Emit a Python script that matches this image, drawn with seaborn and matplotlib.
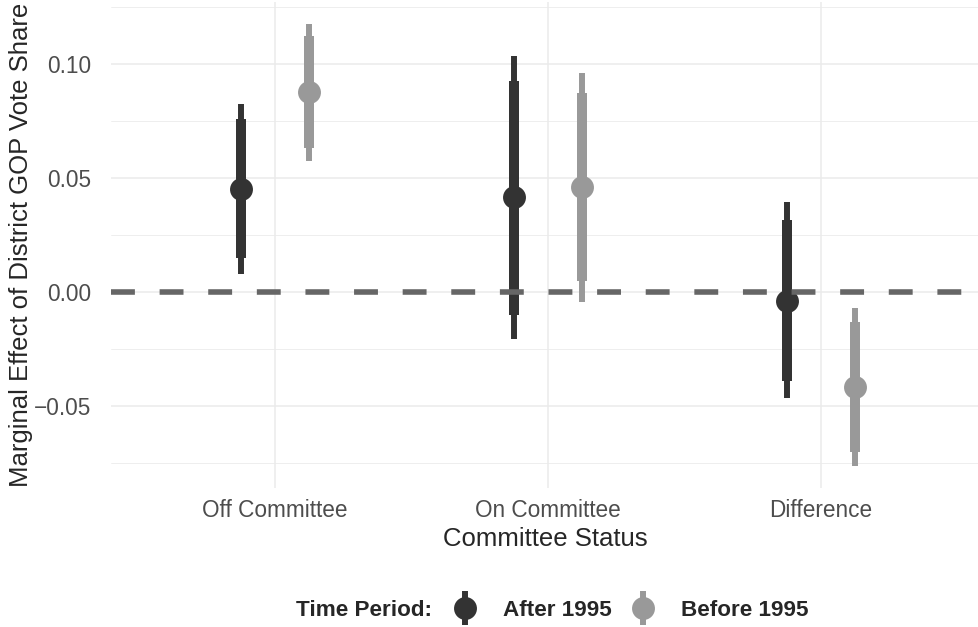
import numpy as np
import pandas as pd
import matplotlib
matplotlib.use("Agg")
import matplotlib.pyplot as plt
import seaborn as sns
from matplotlib.lines import Line2D
from matplotlib.legend_handler import HandlerTuple

# values
status = ["Off Committee", "On Committee", "Difference"]
periods = ["After 1995", "Before 1995"]
colors = ["#333333", "#999999"]

after_est = [0.0450, 0.0417, -0.0039]
after_lo95 = [0.0079, -0.0206, -0.0465]
after_hi95 = [0.0825, 0.1036, 0.0395]
after_lo90 = [0.0149, -0.0101, -0.0390]
after_hi90 = [0.0759, 0.0927, 0.0316]

before_est = [0.0877, 0.0460, -0.0417]
before_lo95 = [0.0575, -0.0044, -0.0763]
before_hi95 = [0.1175, 0.0960, -0.0070]
before_lo90 = [0.0632, 0.0050, -0.0700]
before_hi90 = [0.1123, 0.0873, -0.0132]

df = pd.DataFrame({
    "status": status * 2,
    "period": [periods[0]] * 3 + [periods[1]] * 3,
    "est": after_est + before_est,
    "lo95": after_lo95 + before_lo95,
    "hi95": after_hi95 + before_hi95,
    "lo90": after_lo90 + before_lo90,
    "hi90": after_hi90 + before_hi90,
})

sns.set_style("white")
plt.rcParams["font.family"] = ["Liberation Sans", "DejaVu Sans"]

fig = plt.figure(figsize=(9.79, 6.27), dpi=100)
ax = fig.add_axes([111 / 979, 1 - 488 / 627, 868 / 979, 486 / 627])

sns.pointplot(data=df, x="status", y="est", hue="period", order=status,
              hue_order=periods, palette=colors, dodge=0.25, errorbar=None,
              linestyle="none", markers="o", markersize=16.5,
              markeredgewidth=0, legend=False, ax=ax)

# intervals at the dodged positions seaborn used
pt_lines = list(ax.lines)
for line, per, col in zip(pt_lines, periods, colors):
    sub = df[df["period"] == per].set_index("status").loc[status]
    xs = line.get_xdata()
    ax.vlines(xs, sub["lo95"], sub["hi95"], color=col, lw=4.3, zorder=2)
    ax.vlines(xs, sub["lo90"], sub["hi90"], color=col, lw=7.2, zorder=2)
    line.set_zorder(3)

ax.axhline(0, color="#666666", lw=4, linestyle=(0, (4.3, 4.45)), zorder=4)

ax.set_xlim(-0.6, 2.579)
ax.set_ylim(-0.086, 0.1272)
ax.set_yticks([-0.05, 0.0, 0.05, 0.10])
ax.set_yticklabels(["\u22120.05", "0.00", "0.05", "0.10"])
ax.set_yticks([-0.075, -0.025, 0.025, 0.075, 0.125], minor=True)
ax.grid(which="major", color="#EBEBEB", lw=1.1)
ax.grid(which="minor", axis="y", color="#EBEBEB", lw=0.6)
ax.set_axisbelow(True)
for s in ax.spines.values():
    s.set_visible(False)

ax.tick_params(axis="x", which="both", length=0, pad=8, labelsize=16.3, labelcolor="#4D4D4D")
ax.tick_params(axis="y", which="both", length=0, pad=14, labelsize=16.3, labelcolor="#4D4D4D")
ax.set_xlabel("Committee Status", fontsize=18.5, labelpad=3.2)
ax.set_ylabel("Marginal Effect of District GOP Vote Share", fontsize=18.5, labelpad=1)

# legend: pointrange keys (bar with dot on top)
handles = []
for col in colors:
    bar = Line2D([], [], marker="|", markersize=24, markeredgewidth=4.3, color=col, linestyle="none")
    dot = Line2D([], [], marker="o", markersize=16.5, markeredgewidth=0, color=col, linestyle="none")
    handles.append((bar, dot))
leg_y = 1 - 610 / 627
fig.legend(handles, periods, handler_map={tuple: HandlerTuple(ndivide=1, pad=0)},
           loc="center left", bbox_to_anchor=(454 / 979, leg_y), ncol=2,
           frameon=False, borderpad=0, borderaxespad=0, handlelength=1.0,
           handletextpad=1.17, columnspacing=0.9,
           prop={"weight": "bold", "size": 16.2})
fig.text(432 / 979, leg_y, "Time Period:", ha="right", va="center",
         fontsize=16.2, fontweight="bold")

fig.savefig("out.png", dpi=100)
